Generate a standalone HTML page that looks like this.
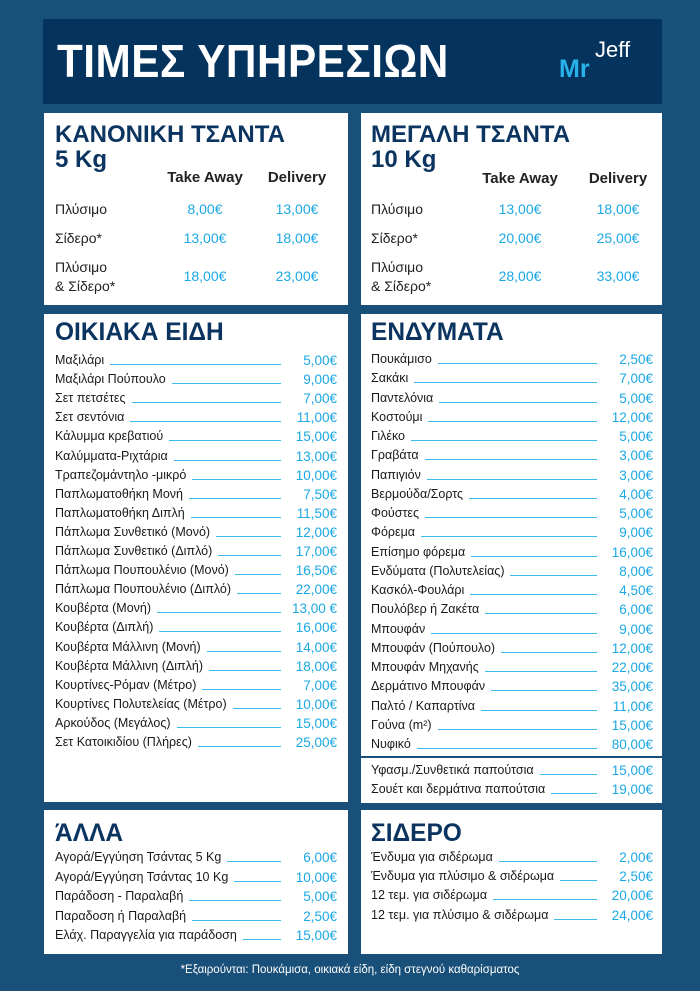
<!DOCTYPE html>
<html><head><meta charset="utf-8"><style>
*{margin:0;padding:0;box-sizing:border-box}
body{width:700px;height:991px;background:#195079;font-family:"Liberation Sans","DejaVu Sans",sans-serif;position:relative;overflow:hidden;color:#222}
.box{position:absolute;background:#fff}
.hdr{position:absolute;left:43px;top:19px;width:619px;height:85px;background:#04335e}
.hdr h1{position:absolute;left:14px;top:15px;color:#fff;font-size:46px;font-weight:bold;letter-spacing:0.5px;transform:scaleX(0.92);transform-origin:left}
.t{position:absolute;color:#0b3460;font-weight:bold;font-size:24px;line-height:25px;transform:scaleX(1.0);transform-origin:left}
.t2{position:absolute;color:#0b3460;font-weight:bold;font-size:25px;line-height:26px;transform:scaleX(0.98);transform-origin:left}
.a{position:absolute;font-size:14px;color:#222}
.p{position:absolute;font-size:14px;color:#1ba8e4;text-align:center;width:80px}
.ch{position:absolute;font-size:15px;font-weight:bold;color:#222;text-align:center;width:100px}
.r{position:absolute;display:flex;align-items:flex-end;font-size:12.5px;height:17px;line-height:17px}
.r .n{white-space:nowrap;color:#1a1a1a}
.r .l{flex:1;border-bottom:1.2px solid #3cbcec;margin:0 6px 4px 6px}
.r .v{color:#1ba8e4;font-size:13.5px;text-align:right;width:50px}
.foot{position:absolute;top:964px;left:0;width:700px;text-align:center;color:#fff;font-size:11.5px}
</style></head><body>
<div class="hdr"><h1>ΤΙΜΕΣ ΥΠΗΡΕΣΙΩΝ</h1>
<div style="position:absolute;left:516px;top:36px;color:#27b3ea;font-size:25px;font-weight:bold">Mr</div>
<div style="position:absolute;left:552px;top:18px;color:#fff;font-size:22px">Jeff</div></div>

<div class="box" style="left:44px;top:113px;width:304px;height:192px"></div>
<div class="box" style="left:361px;top:113px;width:301px;height:192px"></div>
<div class="t" style="left:55px;top:122px">ΚΑΝΟΝΙΚΗ ΤΣΑΝΤΑ<br>5 Kg</div>
<div class="t" style="left:371px;top:122px">ΜΕΓΑΛΗ ΤΣΑΝΤΑ<br>10 Kg</div>
<div class="ch" style="left:155px;top:169px">Take Away</div>
<div class="ch" style="left:247px;top:169px">Delivery</div>
<div class="ch" style="left:470px;top:170px">Take Away</div>
<div class="ch" style="left:568px;top:170px">Delivery</div>
<div class="a" style="left:55px;top:201px">Πλύσιμο</div>
<div class="a" style="left:55px;top:230px">Σίδερο*</div>
<div class="a" style="left:55px;top:258px;line-height:19px">Πλύσιμο<br>&amp; Σίδερο*</div>
<div class="a" style="left:371px;top:201px">Πλύσιμο</div>
<div class="a" style="left:371px;top:230px">Σίδερο*</div>
<div class="a" style="left:371px;top:258px;line-height:19px">Πλύσιμο<br>&amp; Σίδερο*</div>
<div class="p" style="left:165px;top:201px">8,00€</div><div class="p" style="left:257px;top:201px">13,00€</div>
<div class="p" style="left:165px;top:230px">13,00€</div><div class="p" style="left:257px;top:230px">18,00€</div>
<div class="p" style="left:165px;top:268px">18,00€</div><div class="p" style="left:257px;top:268px">23,00€</div>
<div class="p" style="left:480px;top:201px">13,00€</div><div class="p" style="left:578px;top:201px">18,00€</div>
<div class="p" style="left:480px;top:230px">20,00€</div><div class="p" style="left:578px;top:230px">25,00€</div>
<div class="p" style="left:480px;top:268px">28,00€</div><div class="p" style="left:578px;top:268px">33,00€</div>

<div class="box" style="left:44px;top:314px;width:304px;height:488px"></div>
<div class="box" style="left:361px;top:314px;width:301px;height:442px"></div>
<div class="box" style="left:361px;top:758px;width:301px;height:45px"></div>
<div class="box" style="left:44px;top:810px;width:304px;height:144px"></div>
<div class="box" style="left:361px;top:810px;width:301px;height:144px"></div>
<div class="t2" style="left:55px;top:319px">ΟΙΚΙΑΚΑ ΕΙΔΗ</div>
<div class="t2" style="left:371px;top:319px">ΕΝΔΥΜΑΤΑ</div>
<div class="t2" style="left:55px;top:820px">ΆΛΛΑ</div>
<div class="t2" style="left:371px;top:820px">ΣΙΔΕΡΟ</div>

<script>
function rows(x,y0,step,w,items){let h='';items.forEach((it,i)=>{h+=`<div class="r" style="left:${x}px;top:${y0+i*step}px;width:${w}px"><span class="n">${it[0]}</span><span class="l"></span><span class="v">${it[1]}</span></div>`});document.body.insertAdjacentHTML('beforeend',h)}
rows(55,352,19.1,282,[["Μαξιλάρι","5,00€"],["Μαξιλάρι Πούπουλο","9,00€"],["Σετ πετσέτες","7,00€"],["Σετ σεντόνια","11,00€"],["Κάλυμμα κρεβατιού","15,00€"],["Καλύμματα-Ριχτάρια","13,00€"],["Τραπεζομάντηλο -μικρό","10,00€"],["Παπλωματοθήκη Μονή","7,50€"],["Παπλωματοθήκη Διπλή","11,50€"],["Πάπλωμα Συνθετικό (Μονό)","12,00€"],["Πάπλωμα Συνθετικό (Διπλό)","17,00€"],["Πάπλωμα Πουπουλένιο (Μονό)","16,50€"],["Πάπλωμα Πουπουλένιο (Διπλό)","22,00€"],["Κουβέρτα (Μονή)","13,00 €"],["Κουβέρτα (Διπλή)","16,00€"],["Κουβέρτα Μάλλινη (Μονή)","14,00€"],["Κουβέρτα Μάλλινη (Διπλή)","18,00€"],["Κουρτίνες-Ρόμαν (Μέτρο)","7,00€"],["Κουρτίνες Πολυτελείας (Μέτρο)","10,00€"],["Αρκούδος (Μεγάλος)","15,00€"],["Σετ Κατοικιδίου (Πλήρες)","25,00€"]]);
rows(371,351,19.25,282,[["Πουκάμισο","2,50€"],["Σακάκι","7,00€"],["Παντελόνια","5,00€"],["Κοστούμι","12,00€"],["Γιλέκο","5,00€"],["Γραβάτα","3,00€"],["Παπιγιόν","3,00€"],["Βερμούδα/Σορτς","4,00€"],["Φούστες","5,00€"],["Φόρεμα","9,00€"],["Επίσημο φόρεμα","16,00€"],["Ενδύματα (Πολυτελείας)","8,00€"],["Κασκόλ-Φουλάρι","4,50€"],["Πουλόβερ ή Ζακέτα","6,00€"],["Μπουφάν","9,00€"],["Μπουφάν (Πούπουλο)","12,00€"],["Μπουφάν Μηχανής","22,00€"],["Δερμάτινο Μπουφάν","35,00€"],["Παλτό / Καπαρτίνα","11,00€"],["Γούνα (m²)","15,00€"],["Νυφικό","80,00€"]]);
rows(371,762,19.2,282,[["Υφασμ./Συνθετικά παπούτσια","15,00€"],["Σουέτ και δερμάτινα παπούτσια","19,00€"]]);
rows(55,849,19.5,282,[["Αγορά/Εγγύηση Τσάντας 5 Kg","6,00€"],["Αγορά/Εγγύηση Τσάντας 10 Kg","10,00€"],["Παράδοση - Παραλαβή","5,00€"],["Παραδοση ή Παραλαβή","2,50€"],["Ελάχ. Παραγγελία για παράδοση","15,00€"]]);
rows(371,849,19.2,282,[["Ένδυμα για σιδέρωμα","2,00€"],["Ένδυμα για πλύσιμο &amp; σιδέρωμα","2,50€"],["12 τεμ. για σιδέρωμα","20,00€"],["12 τεμ. για πλύσιμο &amp; σιδέρωμα","24,00€"]]);
</script>
<div class="foot">*Εξαιρούνται: Πουκάμισα, οικιακά είδη, είδη στεγνού καθαρίσματος</div>
</body></html>
